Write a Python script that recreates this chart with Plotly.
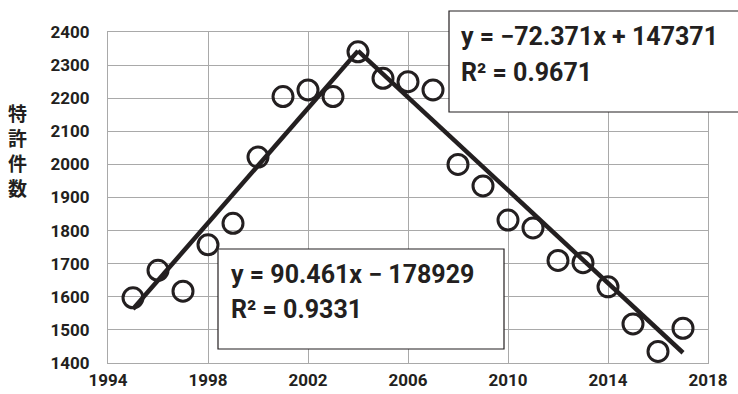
import plotly.graph_objects as go

years = [1995, 1996, 1997, 1998, 1999, 2000, 2001, 2002, 2003, 2004, 2005, 2006,
         2007, 2008, 2009, 2010, 2011, 2012, 2013, 2014, 2015, 2016, 2017]
counts = [1597, 1680, 1617, 1757, 1822, 2022, 2205, 2225, 2205, 2340,
          2260, 2250, 2225, 2000, 1935, 1832, 1808, 1710, 1703, 1630,
          1518, 1435, 1505]
up_trend_x = [1995, 2004]
up_trend_y = [1563, 2343]
down_trend_x = [2004, 2017]
down_trend_y = [2343, 1431]
eq_up = ["y = 90.461x − 178929", "R² = 0.9331"]
eq_down = ["y = −72.371x + 147371", "R² = 0.9671"]
x_ticks = [1994, 1998, 2002, 2006, 2010, 2014, 2018]
y_ticks = [1400, 1500, 1600, 1700, 1800, 1900, 2000, 2100, 2200, 2300, 2400]
y_title = "特許件数"

INK = "#231f20"
FONT = "Roboto, Arial"
L, R, T, B, W, H = 108, 30, 32, 31, 738, 394
PW, PH = W - L - R, H - T - B

def px(x):
    return (x - L) / PW

def py(y):
    return (H - B - y) / PH

fig = go.Figure()
fig.add_trace(go.Scatter(x=up_trend_x, y=up_trend_y, mode="lines",
                         line=dict(color=INK, width=4.5), showlegend=False))
fig.add_trace(go.Scatter(x=down_trend_x, y=down_trend_y, mode="lines",
                         line=dict(color=INK, width=4.5), showlegend=False))
fig.add_trace(go.Scatter(x=years, y=counts, mode="markers",
                         marker=dict(symbol="circle-open", size=20, color=INK,
                                     line=dict(width=3, color=INK)),
                         showlegend=False))

fig.add_shape(type="rect", xref="paper", yref="paper", x0=px(449), x1=px(745), y0=py(112), y1=py(11),
              fillcolor="white", line=dict(color=INK, width=1.2), layer="above")
fig.add_shape(type="rect", xref="paper", yref="paper", x0=px(218), x1=px(504), y0=py(349), y1=py(249),
              fillcolor="white", line=dict(color=INK, width=1.2), layer="above")

def add_text(txt, xpx, ypx):
    fig.add_annotation(text="<b>" + txt + "</b>", xref="paper", yref="paper",
                       x=px(xpx), y=py(ypx), xanchor="left", yanchor="middle", showarrow=False,
                       font=dict(family=FONT, size=25, color=INK))

add_text(eq_down[0], 459, 37)
add_text(eq_down[1], 459, 72)
add_text(eq_up[0], 229, 274)
add_text(eq_up[1], 229, 309)

for i, ch in enumerate(y_title):
    fig.add_annotation(text="<b>" + ch + "</b>", xref="paper", yref="paper",
                       x=px(17), y=py(112 + 25.3 * i), xanchor="center", yanchor="middle",
                       showarrow=False, font=dict(family="Noto Sans CJK JP", size=19, color=INK))

axis_common = dict(showgrid=True, gridcolor="#a9a9a9", gridwidth=1.2, zeroline=False,
                   showline=True, linecolor="#a9a9a9", linewidth=1.2, mirror=True, ticks="",
                   automargin=False, tickfont=dict(family=FONT, size=17, color=INK))
fig.update_layout(
    width=W, height=H, margin=dict(l=L, r=R, t=T, b=B),
    plot_bgcolor="white", paper_bgcolor="white",
    xaxis=dict(range=[1994, 2018], tickvals=x_ticks, ticktext=[f"<b>{t}</b>" for t in x_ticks],
               ticklabelstandoff=1, **axis_common),
    yaxis=dict(range=[1400, 2400], tickvals=y_ticks, ticktext=[f"<b>{t}</b>" for t in y_ticks],
               ticklabelstandoff=14, **axis_common),
)
fig.write_html("out.html")
